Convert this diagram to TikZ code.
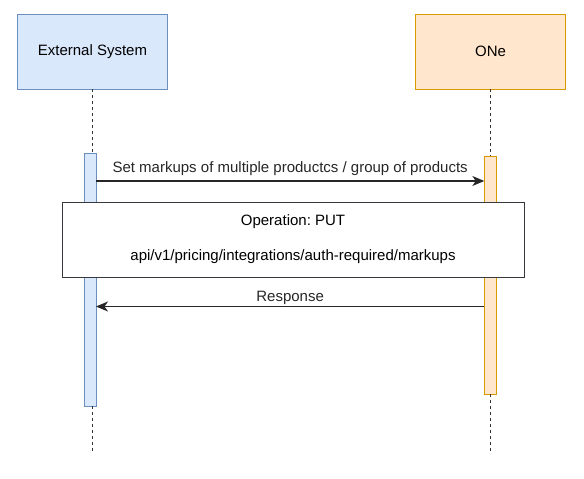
\documentclass[tikz,border=0pt]{standalone}
\usepackage{fontspec}
\setmainfont{Liberation Sans}
\usepackage{tikz}
\usetikzlibrary{calc,positioning,arrows.meta,math}
\frenchspacing

\definecolor{blueFill}{HTML}{DAE8FC}
\definecolor{blueLine}{HTML}{6C8EBF}
\definecolor{orangeFill}{HTML}{FFE6CC}
\definecolor{orangeLine}{HTML}{D79B00}
\definecolor{opLine}{HTML}{36393D}

\tikzset{
    actor/.style={draw, line width=1pt, minimum width=150pt, minimum height=75pt},
    actBar/.style={draw, line width=1pt, minimum width=12pt, inner sep=0pt},
    lifeline/.style={line width=1pt, dash pattern=on 3pt off 3pt, color=black!80},
    msg/.style={line width=1.2pt, color=black!85, -{Stealth[length=12pt,width=10pt,inset=3.5pt]}}
}

\begin{document}
\begin{tikzpicture}[x=1pt,y=-1pt, every node/.style={outer sep=0pt, font=\fontsize{15}{17.5}\selectfont}]
	\tikzmath{
		\msgA = 181;
		\msgB = 306.5;
		\lifeEnd = 452;
	}
    \useasboundingbox (0,0) rectangle (584,479);

    \node[actor, fill=blueFill, draw=blueLine] (extSys) at (92.5,51.5) {External System};
    \node[actor, fill=orangeFill, draw=orangeLine] (oneSys) at (490.5,51.5) {ONe};

    \node[actBar, fill=blueFill, draw=blueLine, minimum height=253pt] (extBar) at (90,279.5) {};
    \node[actBar, fill=orangeFill, draw=orangeLine, minimum height=238pt] (oneBar) at (490.3,275) {};

    \coordinate (extEnd) at (92.5,\lifeEnd);
    \coordinate (oneEnd) at (490.3,\lifeEnd);

    \draw[lifeline] (extSys.south) -- (extSys.south |- extBar.north);
    \draw[lifeline] (extEnd |- extBar.south) -- (extEnd);
    \draw[lifeline] (oneSys.south) -- (oneSys.south |- oneBar.north);
    \draw[lifeline] (oneBar.south) -- (oneEnd);

    \draw[msg] (extBar.east |- 0,\msgA) -- (oneBar.west |- 0,\msgA)
        node[midway, above=2.5pt] (setLbl) {Set markups of multiple productcs / group of products};

    \node[draw=opLine, fill=white, line width=1pt, minimum width=462pt, minimum height=75pt, align=center]
        (opBox) at (293,239.5) {Operation: PUT\\[17.5pt]api/v1/pricing/integrations/auth-required/markups};

    \draw[msg] (oneBar.west |- 0,\msgB) -- (extBar.east |- 0,\msgB)
        node[midway, above=-1.8pt] (respLbl) {Response};
   % \draw[msg] (oneBar.west) -- (extBar.east);
\end{tikzpicture}
\end{document}
